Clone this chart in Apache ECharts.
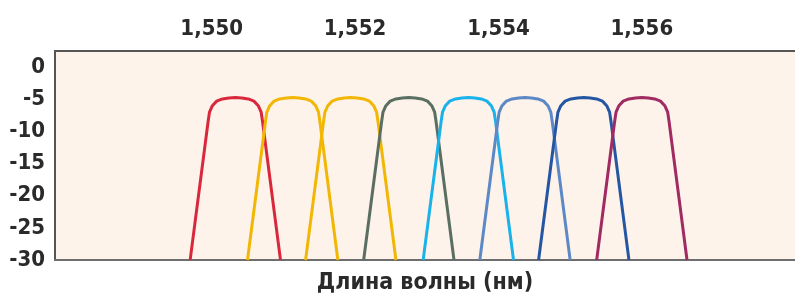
<!DOCTYPE html>
<html>
<head>
<meta charset="utf-8">
<script src="https://cdn.jsdelivr.net/npm/echarts@6/dist/echarts.min.js"></script>
<style>
  html, body { margin: 0; padding: 0; background: #fff; }
</style>
</head>
<body>
<div id="main" style="width: 795px;height:300px;"></div>
<script type="text/javascript">

    // уровни мощности (дБ) по точкам контура канала
    var levels = [-30, -8.5, -7.0, -6.0, -5.3, -4.95, -4.8, -4.75, -4.8, -4.95, -5.3, -6.0, -7.0, -8.5, -30];

    // длины волн точек контура для каждого канала (нм)
    var ch1 = [1549.70, 1549.95, 1549.97, 1550.01, 1550.07, 1550.15, 1550.24, 1550.33, 1550.42, 1550.51, 1550.59, 1550.65, 1550.69, 1550.71, 1550.96];
    var ch2 = [1550.50, 1550.75, 1550.77, 1550.81, 1550.87, 1550.95, 1551.04, 1551.13, 1551.22, 1551.31, 1551.39, 1551.45, 1551.49, 1551.51, 1551.76];
    var ch3 = [1551.31, 1551.56, 1551.58, 1551.62, 1551.68, 1551.76, 1551.85, 1551.94, 1552.03, 1552.12, 1552.20, 1552.26, 1552.30, 1552.32, 1552.57];
    var ch4 = [1552.12, 1552.37, 1552.39, 1552.43, 1552.49, 1552.57, 1552.66, 1552.75, 1552.84, 1552.93, 1553.01, 1553.07, 1553.11, 1553.13, 1553.38];
    var ch5 = [1552.95, 1553.20, 1553.22, 1553.26, 1553.32, 1553.40, 1553.49, 1553.58, 1553.67, 1553.76, 1553.84, 1553.90, 1553.94, 1553.96, 1554.21];
    var ch6 = [1553.74, 1553.99, 1554.01, 1554.05, 1554.11, 1554.19, 1554.28, 1554.37, 1554.46, 1554.55, 1554.63, 1554.69, 1554.73, 1554.75, 1555.00];
    var ch7 = [1554.56, 1554.81, 1554.83, 1554.87, 1554.93, 1555.01, 1555.10, 1555.19, 1555.28, 1555.37, 1555.45, 1555.51, 1555.55, 1555.57, 1555.82];
    var ch8 = [1555.37, 1555.62, 1555.64, 1555.68, 1555.74, 1555.82, 1555.91, 1556.00, 1556.09, 1556.18, 1556.26, 1556.32, 1556.36, 1556.38, 1556.63];

    var channels = [ch1, ch2, ch3, ch4, ch5, ch6, ch7, ch8];
    var colors = ['#d9283c', '#f2b705', '#f2b705', '#5a6e62', '#19b2ea', '#5d88c6', '#2456a4', '#a02a62'];

    var xTicks = [1550, 1552, 1554, 1556];
    var yTicks = [0, -5, -10, -15, -20, -25, -30];

    var labelFont = "'Liberation Sans Narrow', 'DejaVu Sans Condensed', sans-serif";

    var myChart = echarts.init(document.getElementById('main'));

    var series = [];
    for (var i = 0; i < channels.length; i++) {
        var pts = [];
        for (var j = 0; j < channels[i].length; j++) {
            pts.push([channels[i][j], levels[j]]);
        }
        series.push({
            type: 'line',
            xAxisIndex: 0,
            data: pts,
            showSymbol: false,
            lineStyle: { color: colors[i], width: 3, join: 'round' }
        });
    }

    var option = {
        animation: false,
        backgroundColor: '#fff',
        grid: {
            left: 55, right: 0, top: 51, bottom: 40,
            show: true, backgroundColor: '#fdf3ea', borderWidth: 0
        },
        xAxis: [{
            type: 'value',
            position: 'top',
            min: 1547.815,
            max: 1558.136,
            axisLine: { show: true, onZero: false, lineStyle: { color: '#555', width: 2 } },
            axisTick: { show: false },
            splitLine: { show: false },
            axisLabel: {
                customValues: xTicks,
                margin: 11,
                fontSize: 22,
                fontWeight: 'bold',
                fontFamily: labelFont,
                color: '#2a2a2a',
                formatter: function (v) {
                    var s = String(v);
                    return s.charAt(0) + ',' + s.slice(1);
                }
            }
        }, {
            type: 'value',
            position: 'bottom',
            min: 1547.815,
            max: 1558.136,
            axisLine: { show: true, onZero: false, lineStyle: { color: '#6e6e6e', width: 2 } },
            axisTick: { show: false },
            splitLine: { show: false },
            axisLabel: { show: false },
            name: 'Длина волны (нм)',
            nameLocation: 'middle',
            nameGap: 12,
            nameTextStyle: {
                fontSize: 23,
                fontWeight: 'bold',
                fontFamily: labelFont,
                color: '#2a2a2a',
                verticalAlign: 'top'
            }
        }],
        yAxis: {
            type: 'value',
            min: -30,
            max: 2.5,
            axisLine: { show: true, onZero: false, lineStyle: { color: '#555', width: 2 } },
            axisTick: { show: false },
            splitLine: { show: false },
            axisLabel: {
                customValues: yTicks,
                margin: 10,
                fontSize: 22,
                fontWeight: 'bold',
                fontFamily: labelFont,
                color: '#2a2a2a'
            }
        },
        series: series
    };

    myChart.setOption(option);
</script>
</body>
</html>
